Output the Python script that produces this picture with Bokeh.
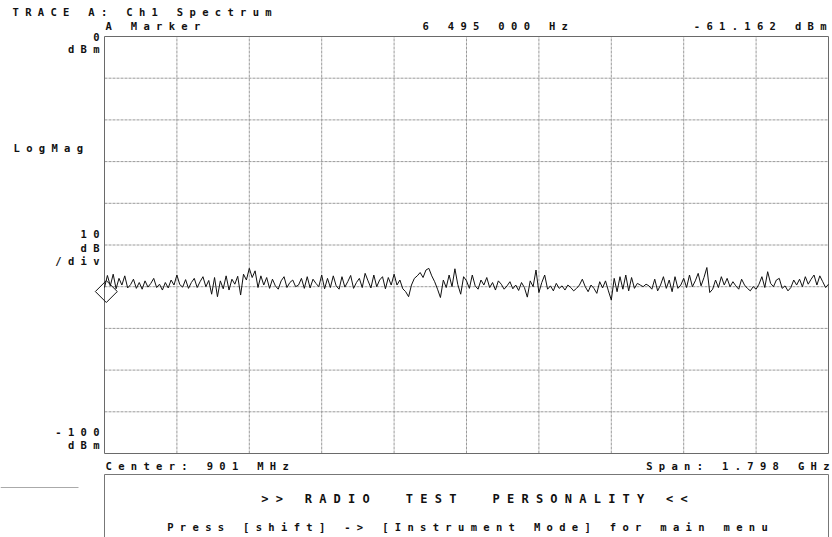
import numpy as np
from bokeh.plotting import figure
from bokeh.models import Range1d, Label
from bokeh.embed import file_html
from bokeh.resources import INLINE

# ---------------- data ----------------
start_mhz = 2.0
stop_mhz = 1800.0
ref_level_dbm = 0
bottom_level_dbm = -100
db_per_div = 10
n_xdiv = 10
marker_freq_mhz = 6.495
marker_level_dbm = -61.162

trace_dbm = [
    -60.2, -57.3, -59.8, -57.0, -60.5, -58.0, -59.6, -57.4, -60.3, -59.5, -58.2, -60.4, -59.0, -60.6, -58.6, -60.1, -59.2, -58.0, -60.2, -59.4, -60.8, -59.0, -60.3, -58.4, -59.6,
    -57.2, -59.5, -60.1, -58.3, -60.4, -59.0, -58.0, -60.2, -58.8, -57.6, -60.0, -58.5, -61.8, -57.8, -62.4, -58.6, -60.5, -57.4, -60.8, -58.2, -59.4, -57.5, -62.0, -57.0, -58.4,
    -55.6, -57.8, -56.2, -60.2, -57.4, -59.6, -57.8, -60.4, -58.2, -59.8, -60.6, -58.6, -57.6, -60.2, -59.0, -58.4, -60.0, -59.6, -58.0, -60.4, -57.6, -60.3, -58.2, -59.2, -60.0,
    -57.2, -60.5, -58.0, -60.2, -57.4, -59.8, -60.6, -57.6, -60.1, -58.8, -57.3, -60.4, -59.0, -58.0, -60.2, -56.8, -58.6, -60.3, -57.2, -60.0, -58.4, -57.6, -60.5, -57.8, -59.6,
    -57.0, -59.6, -58.4, -60.5, -61.2, -62.4, -59.6, -58.0, -57.4, -56.6, -57.8, -56.0, -55.6, -57.4, -58.8, -60.6, -62.6, -58.4, -60.2, -57.2, -60.0, -55.7, -59.5, -61.8, -57.6,
    -58.6, -60.4, -57.2, -59.8, -60.6, -58.4, -59.6, -57.8, -60.2, -59.0, -60.8, -58.6, -59.4, -60.6, -59.8, -58.8, -60.5, -59.6, -60.9, -59.0, -60.2, -62.5, -58.6, -60.0, -56.0,
    -61.4, -59.0, -57.2, -60.6, -59.8, -61.0, -59.2, -60.4, -59.8, -60.8, -59.6, -60.2, -61.0, -60.4, -59.6, -58.2, -60.0, -61.2, -59.6, -60.4, -61.6, -58.8, -60.3, -58.6, -61.0,
    -63.2, -58.0, -61.2, -57.6, -60.6, -57.2, -61.0, -57.8, -60.4, -59.2, -59.6, -60.0, -59.4, -59.8, -60.6, -58.2, -61.0, -59.6, -57.6, -60.4, -58.4, -61.2, -57.6, -60.4, -59.6,
    -58.0, -60.2, -57.2, -60.0, -58.6, -56.8, -59.8, -57.8, -55.4, -61.4, -60.6, -58.4, -60.2, -57.6, -59.6, -58.0, -60.0, -58.8, -59.8, -60.6, -58.2, -59.6, -60.4, -61.0, -60.0,
    -60.6, -59.4, -57.6, -60.2, -56.4, -59.2, -60.0, -58.4, -58.0, -60.4, -59.8, -61.0, -60.2, -58.4, -59.6, -58.2, -60.0, -57.6, -59.4, -58.2, -57.2, -59.6, -57.4, -58.8, -60.2,
    -59.4,
]

title_text = "TRACE A: Ch1 Spectrum"
marker_label = "A Marker"
marker_freq_text = "6 495 000 Hz"
marker_level_text = "-61.162 dBm"
center_text = "Center: 901 MHz"
span_text = "Span: 1.798 GHz"
banner_text = ">> RADIO  TEST  PERSONALITY <<"
help_text = "Press [shift] -> [Instrument Mode] for main menu"
left_labels = [("0", 36), ("dBm", 48), ("LogMag", 147), ("10", 233), ("dB", 247), ("/div", 260), ("-100", 431), ("dBm", 444)]

# ---------------- layout (pixel geometry of the screen) ----------------
W, H = 832, 537
FL, FR, FT, FB = 104, 828, 36, 453

freqs = np.linspace(start_mhz, stop_mhz, len(trace_dbm))


def dx(px):
    return start_mhz + (px - FL) / (FR - FL) * (stop_mhz - start_mhz)


def dy(py):
    return ref_level_dbm - (py - FT) / (FB - FT) * (ref_level_dbm - bottom_level_dbm)


def spaced(s):
    return "\u00a0".join(s.replace(" ", "\u00a0"))


p = figure(width=W, height=H, output_backend="svg", toolbar_location=None,
           x_range=Range1d(dx(0), dx(W)), y_range=Range1d(dy(H), dy(0)),
           x_axis_location=None, y_axis_location=None,
           min_border_left=0, min_border_right=0, min_border_top=0, min_border_bottom=0)
p.background_fill_color = "white"
p.border_fill_color = "white"
p.outline_line_color = None
p.xgrid.visible = False
p.ygrid.visible = False

# graticule
xt = np.linspace(start_mhz, stop_mhz, n_xdiv + 1)[1:-1]
yt = np.arange(bottom_level_dbm + db_per_div, ref_level_dbm, db_per_div)
p.segment(x0=xt, y0=[bottom_level_dbm] * len(xt), x1=xt, y1=[ref_level_dbm] * len(xt),
          line_color="#9a9a9a", line_width=1, line_dash="3 1")
p.segment(x0=[start_mhz] * len(yt), y0=yt, x1=[stop_mhz] * len(yt), y1=yt,
          line_color="#9a9a9a", line_width=1, line_dash="3 1")
p.quad(left=[start_mhz], right=[stop_mhz], bottom=[bottom_level_dbm], top=[ref_level_dbm],
       fill_color=None, line_color="#6a6a6a", line_width=1)

# trace and marker
p.line(freqs, trace_dbm, line_color="#111111", line_width=1)
p.scatter([marker_freq_mhz], [marker_level_dbm], marker="square", angle=np.pi / 4, size=15.5,
          fill_color=None, line_color="#111111", line_width=1)

FONT = "DejaVu Sans Mono"


def lab(text, px, py, size="10.5px", align="left"):
    p.add_layout(Label(x=dx(px), y=dy(py), text=spaced(text), text_align=align, text_baseline="middle",
                       text_font=FONT, text_font_style="bold", text_font_size=size, text_color="#111111"))


lab(title_text, 12, 11)
lab(marker_label, 105, 25)
lab(marker_freq_text, 422, 25)
lab(marker_level_text, 826, 25, align="right")
for t, py in left_labels:
    if t == "LogMag":
        lab(t, 13, py)
    else:
        lab(t, 99, py, align="right")
lab(center_text, 105, 465)
lab(span_text, 829, 465, align="right")
lab(banner_text, 474, 498, size="12px", align="center")
lab(help_text, 467, 526, size="10.5px", align="center")

# lower message panel (open at the bottom) and the short rule at the left
p.line([dx(FL), dx(FL), dx(FR), dx(FR)], [dy(H + 5), dy(474), dy(474), dy(H + 5)],
       line_color="#777777", line_width=1)
p.line([dx(0), dx(78)], [dy(487), dy(487)], line_color="#aaaaaa", line_width=1)

open("out.html", "w").write(file_html(p, INLINE))
